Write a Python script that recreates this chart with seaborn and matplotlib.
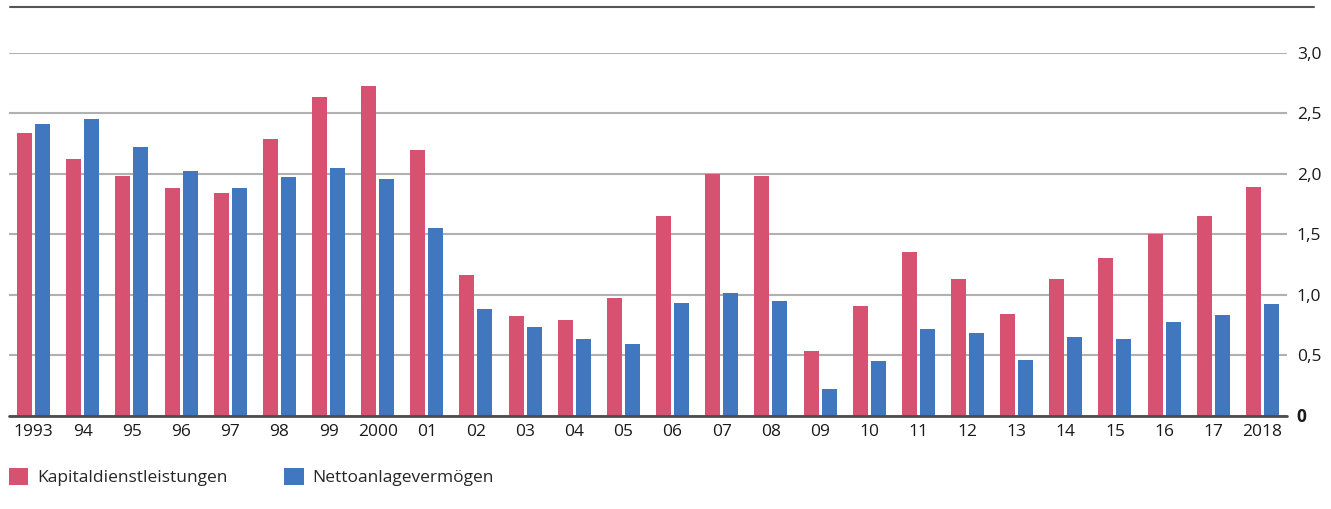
import pandas as pd
import seaborn as sns
import matplotlib.pyplot as plt
from matplotlib.lines import Line2D

years = ['1993', '94', '95', '96', '97', '98', '99', '2000', '01', '02', '03', '04', '05',
         '06', '07', '08', '09', '10', '11', '12', '13', '14', '15', '16', '17', '2018']
kapital = [2.34, 2.12, 1.98, 1.88, 1.84, 2.29, 2.64, 2.73, 2.20, 1.16, 0.82, 0.79, 0.97,
           1.65, 2.00, 1.98, 0.53, 0.91, 1.35, 1.13, 0.84, 1.13, 1.30, 1.50, 1.65, 1.89]
netto = [2.41, 2.45, 2.22, 2.02, 1.88, 1.97, 2.05, 1.96, 1.55, 0.88, 0.73, 0.63, 0.59,
         0.93, 1.01, 0.95, 0.22, 0.45, 0.72, 0.68, 0.46, 0.65, 0.63, 0.77, 0.83, 0.92]
series = ['Kapitaldienstleistungen', 'Nettoanlagevermögen']
colors = ['#d75271', '#4177be']
ytick_vals = [0, 0.5, 1.0, 1.5, 2.0, 2.5, 3.0]
ytick_labels = ['0', '0,5', '1,0', '1,5', '2,0', '2,5', '3,0']

df = pd.DataFrame({
    'year': years * 2,
    'value': kapital + netto,
    'series': [series[0]] * len(years) + [series[1]] * len(years),
})

sns.set_style('white')
plt.rcParams['font.family'] = ['Open Sans', 'DejaVu Sans']
plt.rcParams['font.size'] = 12.5

fig = plt.figure(figsize=(13.31, 5.09), dpi=100)
ax = fig.add_axes([9 / 1331, 1 - 415.5 / 509, 1278 / 1331, 362.5 / 509])

sns.barplot(ax=ax, data=df, x='year', y='value', hue='series', palette=colors,
            width=0.732, gap=0.167, saturation=1, linewidth=0, legend=True)

ax.set_ylim(0, 3.0)
ax.set_xlim(-0.5, len(years) - 0.5)
ax.set_yticks(ytick_vals)
ax.set_yticklabels(ytick_labels)
ax.yaxis.tick_right()
ax.tick_params(axis='y', length=0, pad=7, labelsize=12.5, colors='#1a1a1a')
ax.tick_params(axis='x', length=0, pad=6, labelsize=12.5, colors='#1a1a1a')
ax.get_yticklabels()[0].set_fontweight('bold')
ax.set_xlabel('')
ax.set_ylabel('')
ax.yaxis.grid(True, color='#b0b0b0', linewidth=1.5)
ax.set_axisbelow(True)
for s in ax.spines.values():
    s.set_visible(False)
ax.axhline(0, color='#4d4d4d', linewidth=2, zorder=5, clip_on=False)

# top rule
fig.add_artist(Line2D([10 / 1331, 1314 / 1331], [1 - 7 / 509, 1 - 7 / 509],
                      color='#555555', linewidth=1.5))

handles, labels = ax.get_legend_handles_labels()
ax.legend(handles, labels, loc='center left', bbox_to_anchor=(0 / 1278, -(477 - 415.5) / 362.5),
          ncol=2, frameon=False, fontsize=12.5, handlelength=1.1, handleheight=1.1,
          handletextpad=0.5, columnspacing=3.3, borderaxespad=0, borderpad=0)

plt.savefig('out.png', dpi=100)
plt.close()
